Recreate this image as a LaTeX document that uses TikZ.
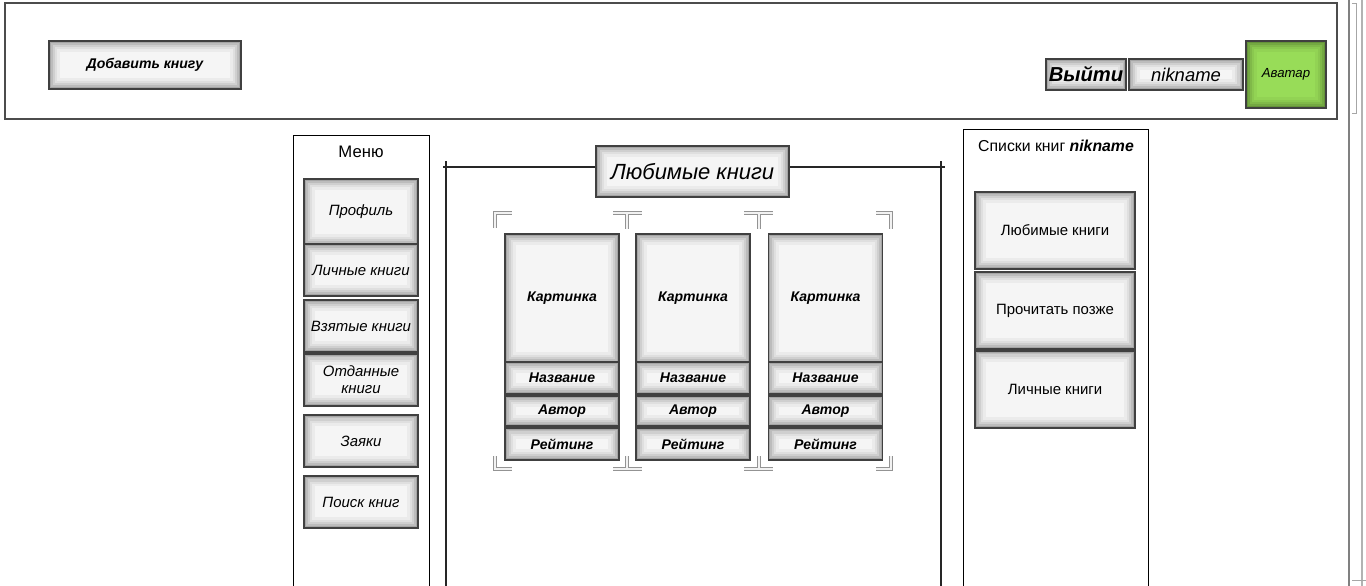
\documentclass[tikz,border=0pt]{standalone}
\usepackage{fontspec}
\setmainfont{Liberation Sans}
\usepackage{tikz}
\usetikzlibrary{positioning}
\definecolor{avatarGreen}{RGB}{152,220,88}
\tikzset{
    btn/.style={
        rectangle, draw=black!75, line width=0.9pt, fill=black!4, align=center,
        inner sep=1pt, outer sep=0pt,
        path picture={
            \foreach \w/\o in {12pt/0.04, 9pt/0.05, 6.5pt/0.07, 4pt/0.09, 2pt/0.12} {
                \draw[black, line width=\w, opacity=\o] (path picture bounding box.south west) rectangle (path picture bounding box.north east);
            }
        }
    },
    menuBtn/.style={btn, minimum width=2.28cm, minimum height=1.04cm, font=\fontsize{8.5}{9.5}\selectfont\itshape},
    listBtn/.style={btn, minimum width=3.2cm, minimum height=1.54cm, font=\fontsize{8.5}{10}\selectfont},
    cardPart/.style={btn, minimum width=2.28cm, font=\fontsize{8}{9}\selectfont\bfseries\itshape},
    panel/.style={draw=black, line width=0.45pt},
    title/.style={font=\fontsize{9.5}{11}\selectfont, inner sep=0pt},
    handle/.style={draw=gray!85, double=gray!10, double distance=0.9pt, line width=0.45pt}
}

\begin{document}
\begin{tikzpicture}[x=0.02cm, y=-0.02cm]
        \useasboundingbox (0,0) rectangle (1366,585);

        % Header
        \draw[draw=black!70, line width=0.6pt] (5,3) rectangle (1337,119);
        \node[btn, minimum width=3.84cm, minimum height=0.96cm, font=\fontsize{8}{9}\selectfont\bfseries\itshape] (AddBook) at (145,65) {Добавить книгу};
        \node[btn, fill=avatarGreen, minimum width=1.6cm, minimum height=1.34cm, font=\fontsize{7.5}{9}\selectfont\itshape] (Avatar) at (1286,74.5) {Аватар};
        \node[btn, left=0.06cm of Avatar, minimum width=2.28cm, minimum height=0.62cm, font=\fontsize{10.5}{12}\selectfont\itshape] (Nick) {nikname};
        \node[btn, left=0.06cm of Nick, minimum width=1.6cm, minimum height=0.62cm, font=\fontsize{11.5}{13}\selectfont\bfseries\itshape] (Logout) {Выйти};

        % Menu
        \draw[panel] (293,135) rectangle (429,586);
        \node[title] (MenuTitle) at (361,152) {Меню};
        \node[menuBtn, minimum height=1.32cm] (Profile) at (361,212) {Профиль};
        \node[menuBtn, below=-0.02cm of Profile] (Own) {Личные книги};
        \node[menuBtn, below=0.08cm of Own] (Taken) {Взятые книги};
        \node[menuBtn, below=0.04cm of Taken] (Given) {Отданные\\книги};
        \node[menuBtn, below=0.18cm of Given] (Requests) {Заяки};
        \node[menuBtn, below=0.18cm of Requests] (Search) {Поиск книг};

        % Favourites
        \draw[draw=black!85, line width=0.6pt] (443,167) -- (945,167);
        \draw[draw=black!85, line width=0.6pt] (446,161) -- (446,586);
        \draw[draw=black!85, line width=0.6pt] (941,161) -- (941,586);
        \node[btn, minimum width=3.86cm, minimum height=1.02cm, font=\fontsize{12.5}{14}\selectfont\itshape] (FavHead) at (692.5,171.5) {Любимые книги};

        \foreach \i/\x in {1/562, 2/693, 3/825.5} {
            \node[cardPart, minimum height=2.58cm] (Pic\i) at (\x,298.5) {Картинка};
            \node[cardPart, below=-0.02cm of Pic\i, minimum height=0.64cm] (Title\i) {Название};
            \node[cardPart, below=0.04cm of Title\i, minimum height=0.6cm] (Author\i) {Автор};
            \node[cardPart, below=0.04cm of Author\i, minimum height=0.64cm] (Rating\i) {Рейтинг};
        }

        % Selection handles
        \draw[handle] (495,228) |- (512,213);
        \draw[handle] (613,213) -- (642,213) (627,213) -- (627,229);
        \draw[handle] (744,213) -- (773,213) (759,213) -- (759,229);
        \draw[handle] (876,213) -| (891,229);
        \draw[handle] (495,456) |- (512,469);
        \draw[handle] (613,469) -- (642,469) (627,469) -- (627,456);
        \draw[handle] (744,469) -- (773,469) (759,469) -- (759,456);
        \draw[handle] (876,469) -| (891,456);

        % Lists
        \draw[panel] (963,129) rectangle (1148,586);
        \node[title, font=\fontsize{9}{11}\selectfont] (ListTitle) at (1056,146) {Списки книг \textbf{\textit{nikname}}};
        \node[listBtn] (Fav) at (1055,230.5) {Любимые книги};
        \node[listBtn, below=0.06cm of Fav] (Later) {Прочитать позже};
        \node[listBtn, below=0.04cm of Later] (OwnList) {Личные книги};

        % Scroll bar
        \draw[draw=gray, line width=1.3pt] (1349,0) -- (1349,586);
        \draw[draw=gray!60, line width=0.6pt] (1362,0) -- (1362,586);
        \draw[draw=gray!70, line width=0.5pt] (1352,3) -- (1356,3) -- (1356,113) -- (1352,113);
        \draw[draw=gray!70, line width=0.5pt] (1352,580) -- (1366,580);
\end{tikzpicture}
\end{document}
